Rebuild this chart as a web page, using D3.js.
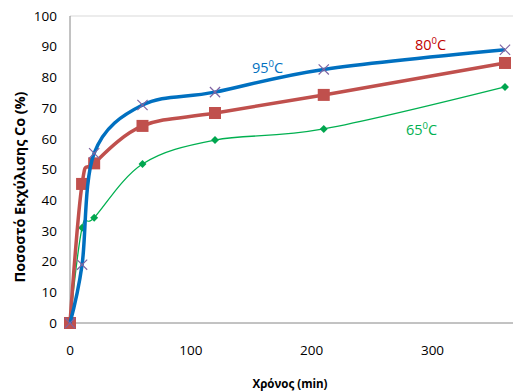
<!DOCTYPE html>
<html><head><meta charset="utf-8">
<script src="https://cdn.jsdelivr.net/npm/d3@7"></script>
<style>body{margin:0;background:#fff;} svg{display:block;font-family:"Open Sans","Liberation Sans",sans-serif;}</style>
</head><body><svg id="c" width="513" height="392"></svg>
<script>
const times = [0, 10, 20, 60, 120, 210, 360];
const s95 = [0, 19, 55.3, 71, 75.2, 82.6, 89];
const s80 = [0, 45.3, 52, 64.2, 68.4, 74.3, 84.7];
const s65 = [0, 31, 34.3, 51.8, 59.6, 63.2, 76.9];
const xTicks = [0, 100, 200, 300];
const yTicks = [0,10,20,30,40,50,60,70,80,90,100];

const svg = d3.select("#c");
const L = 70, R = 513, T = 16, B = 323;
const x = d3.scaleLinear().domain([0, 360]).range([L, 505]);
const y = d3.scaleLinear().domain([0, 100]).range([B, T]);

// frame
svg.append("line").attr("x1",L).attr("x2",R).attr("y1",T).attr("y2",T).attr("stroke","#d9d9d9").attr("stroke-width",1);
svg.append("line").attr("x1",L).attr("x2",R).attr("y1",B).attr("y2",B).attr("stroke","#868686").attr("stroke-width",1);
svg.append("line").attr("x1",L).attr("x2",L).attr("y1",T).attr("y2",B).attr("stroke","#868686").attr("stroke-width",1);

svg.append("g").selectAll("text").data(yTicks).join("text")
  .attr("x",57).attr("y",d=>y(d)).attr("dy","0.35em").attr("text-anchor","end")
  .attr("font-size",13.5).attr("fill","#000").text(d=>d);
svg.append("g").selectAll("text").data(xTicks).join("text")
  .attr("x",d=>x(d)).attr("y",350).attr("dy","0.35em").attr("text-anchor","middle")
  .attr("font-size",13.5).attr("fill","#000").text(d=>d);

svg.append("text").attr("x",290).attr("y",388).attr("text-anchor","middle")
  .attr("font-size",13).attr("font-weight","bold")
  .attr("textLength",75).attr("lengthAdjust","spacingAndGlyphs").text("Χρόνος (min)");
svg.append("text").attr("transform","translate(25,187) rotate(-90)").attr("text-anchor","middle")
  .attr("font-size",13.5).attr("font-weight","bold")
  .attr("textLength",191).attr("lengthAdjust","spacingAndGlyphs").text("Ποσοστό Εκχύλισης Co (%)");

const line = d3.line().curve(d3.curveCatmullRom.alpha(0)).x((d,i)=>x(times[i])).y(d=>y(d));

// 65
svg.append("path").attr("d",line(s65)).attr("fill","none").attr("stroke","#00B050").attr("stroke-width",1.3);
svg.append("g").selectAll("path").data(s65).join("path")
  .attr("d",d3.symbol(d3.symbolDiamond2,40)()).attr("transform",(d,i)=>`translate(${x(times[i])},${y(d)})`)
  .attr("fill","#00A64F");
// 80
svg.append("path").attr("d",line(s80)).attr("fill","none").attr("stroke","#C0504D").attr("stroke-width",3.5);
svg.append("g").selectAll("rect").data(s80).join("rect")
  .attr("x",(d,i)=>x(times[i])-6).attr("y",d=>y(d)-6).attr("width",12).attr("height",12)
  .attr("fill","#C0504D");
// 95
svg.append("path").attr("d",line(s95)).attr("fill","none").attr("stroke","#0070C0").attr("stroke-width",3.5);
svg.append("g").selectAll("path").data(s95).join("path")
  .attr("d",d3.symbol(d3.symbolX,70)()).attr("transform",(d,i)=>`translate(${x(times[i])},${y(d)})`)
  .attr("fill","none").attr("stroke","#8064A2").attr("stroke-width",1.2);

function lab(tx,ty,num,col){
  const t = svg.append("text").attr("x",tx).attr("y",ty).attr("font-size",14.5).attr("fill",col);
  t.append("tspan").text(num);
  t.append("tspan").attr("dy",-6).attr("font-size",9.5).text("0");
  t.append("tspan").attr("dy",6).text("C");
}
lab(252,73,"95","#0070C0");
lab(415,50,"80","#C00000");
lab(406,135,"65","#00B050");
</script></body></html>
